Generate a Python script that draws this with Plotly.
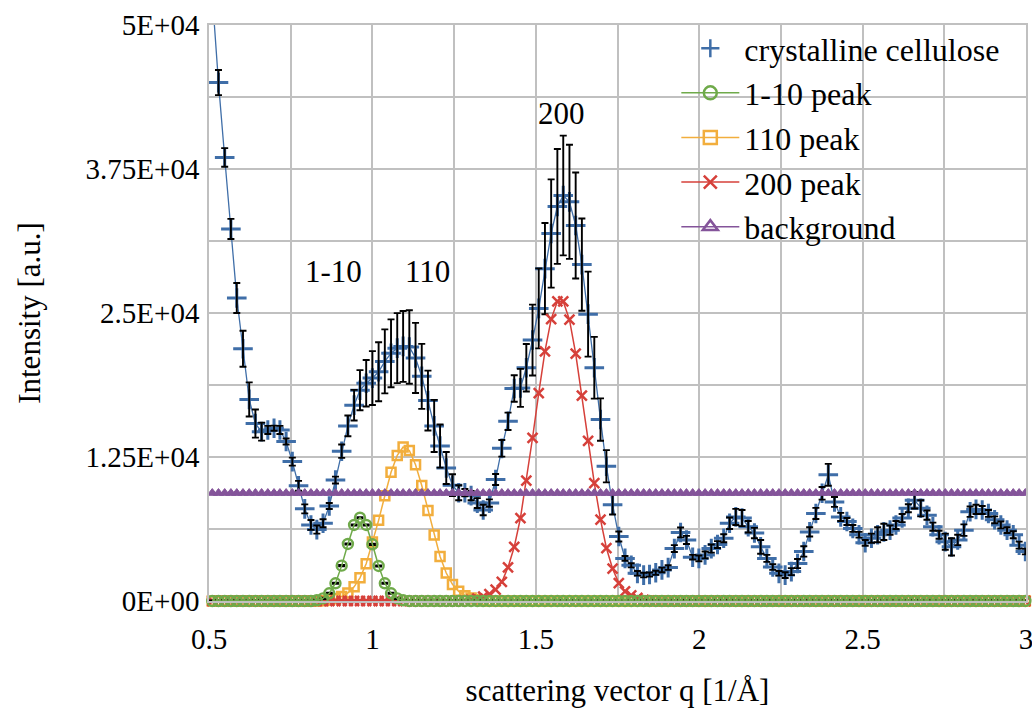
import plotly.graph_objects as go

# scattering vector grid [1/Å]
q = [0.510, 0.529, 0.548, 0.567, 0.585, 0.604, 0.623, 0.642, 0.661, 0.680,
     0.699, 0.717, 0.736, 0.755, 0.774, 0.793, 0.812, 0.830, 0.849, 0.868,
     0.887, 0.906, 0.925, 0.944, 0.962, 0.981, 1.000, 1.019, 1.038, 1.057,
     1.076, 1.094, 1.113, 1.132, 1.151, 1.170, 1.189, 1.207, 1.226, 1.245,
     1.264, 1.283, 1.302, 1.321, 1.339, 1.358, 1.377, 1.396, 1.415, 1.434,
     1.453, 1.471, 1.490, 1.509, 1.528, 1.547, 1.566, 1.584, 1.603, 1.622,
     1.641, 1.660, 1.679, 1.698, 1.716, 1.735, 1.754, 1.773, 1.792, 1.811,
     1.830, 1.848, 1.867, 1.886, 1.905, 1.924, 1.943, 1.961, 1.980, 1.999,
     2.018, 2.037, 2.056, 2.075, 2.093, 2.112, 2.131, 2.150, 2.169, 2.188,
     2.207, 2.225, 2.244, 2.263, 2.282, 2.301, 2.320, 2.338, 2.357, 2.376,
     2.395, 2.414, 2.433, 2.452, 2.470, 2.489, 2.508, 2.527, 2.546, 2.565,
     2.584, 2.602, 2.621, 2.640, 2.659, 2.678, 2.697, 2.715, 2.734, 2.753,
     2.772, 2.791, 2.810, 2.829, 2.847, 2.866, 2.885, 2.904, 2.923, 2.942,
     2.961, 2.979, 2.998]

# measured intensity of crystalline cellulose and its uncertainty
cellulose = [52600, 45000, 38500, 32300, 26300, 21900, 17500, 15400, 14700, 14850,
             15000, 14850, 13850, 12100, 10000, 8000, 6600, 6200, 6750, 8250,
             10500, 13000, 15200, 17000, 18300, 18900, 19350, 19900, 20800, 21500,
             21950, 22100, 22050, 21100, 19500, 17400, 15200, 13450, 11550, 10050,
             9400, 9400, 9150, 8500, 7900, 8500, 10550, 13250, 15600, 18450,
             18500, 20250, 22650, 25400, 28850, 31900, 34250, 35200, 34650, 32600,
             29200, 24900, 20250, 15750, 11700, 8350, 5600, 3700, 3100, 2400,
             2250, 2300, 2450, 2700, 2900, 4550, 5950, 5300, 3800, 3700,
             4000, 4550, 4900, 5450, 6750, 7300, 7200, 6450, 5900, 4700,
             3700, 2950, 2400, 2250, 2550, 3250, 4300, 6000, 7600, 9350,
             10950, 8600, 7300, 6900, 6300, 5750, 5050, 5450, 5750, 6000,
             6150, 6600, 7200, 8050, 8750, 8050, 7450, 6450, 5750, 5150,
             4700, 5300, 6150, 7750, 7950, 7900, 7600, 7050, 6600, 6150,
             5750, 4850, 4300]
cellulose_err = [1100, 1090, 810, 870, 1300, 1560, 1480, 1220, 780, 350,
                 220, 350, 260, 350, 430, 390, 430, 350, 350, 260,
                 300, 580, 900, 1330, 1740, 2020, 2340, 2560, 2780, 2950,
                 3040, 3080, 3190, 3040, 2820, 2600, 2260, 1870, 1390, 950,
                 650, 320, 410, 430, 460, 320, 480, 720, 750, 1150,
                 1650, 2060, 3080, 3470, 3960, 4700, 4990, 5200, 4950, 4600,
                 4000, 3690, 2680, 1840, 1400, 840, 430, 200, 180, 200,
                 200, 180, 180, 200, 200, 300, 430, 350, 200, 250,
                 300, 350, 300, 350, 500, 700, 700, 500, 450, 600,
                 300, 250, 200, 250, 300, 400, 450, 400, 480, 550,
                 950, 430, 350, 300, 300, 250, 250, 400, 650, 700,
                 400, 350, 350, 350, 720, 700, 400, 350, 350, 700,
                 750, 450, 500, 450, 400, 350, 300, 300, 300, 250,
                 300, 300, 250]

# fitted Bragg peaks (zero outside the listed ranges)
peak_1m10 = ([0] * 17 +
             [60, 230, 670, 1540, 3070, 4950, 6600, 7230, 6600, 4920,
              3040, 1540, 670, 230, 60] +
             [0] * 101)
peak_1m10_err = [50] * 133
peak_110 = ([0] * 18 +
            [30, 90, 200, 400, 700, 1230, 2010, 3240, 5120, 7000,
             9140, 11170, 12640, 13360, 13070, 11830, 10030, 7860, 5720, 3870,
             2430, 1440, 840, 460, 260, 120, 30] +
            [0] * 88)
peak_200 = ([0] * 41 +
            [40, 90, 200, 380, 600, 980, 1650, 2920, 4690, 7200,
             10440, 14150, 18050, 21660, 24470, 26000, 26000, 24420, 21470, 17820,
             13910, 10240, 7060, 4600, 2800, 1560, 830, 490, 260, 100,
             40] +
            [0] * 61)
background = [9370] * 133

x_ticks = [0.5, 1, 1.5, 2, 2.5, 3]
x_minor = [0.75, 1.25, 1.75, 2.25, 2.75]
y_ticks = [0, 12500, 25000, 37500, 50000]
y_ticktext = ["0E+00", "1.25E+04", "2.5E+04", "3.75E+04", "5E+04"]
y_minor = [6250, 18750, 31250, 43750]

peak_labels = ["1-10", "110", "200"]
peak_label_q = [0.88, 1.17, 1.58]
peak_label_i = [28600, 28600, 42300]

BLUE = "#3f6ea8"
GREEN = "#6faa4a"
ORANGE = "#f2ae3d"
RED = "#d6403a"
PURPLE = "#84549a"
GRID = "#c0c0c0"
FONT = "'Liberation Serif', 'Times New Roman', 'DejaVu Serif', serif"

fig = go.Figure()

fig.add_trace(go.Scatter(
    x=q, y=cellulose, mode="lines+markers", showlegend=False,
    line=dict(color=BLUE, width=1.3),
    marker=dict(symbol="cross-thin", size=14, line=dict(color=BLUE, width=3)),
))
# uncertainty bars drawn above the markers
fig.add_trace(go.Scatter(
    x=q, y=cellulose, mode="markers", showlegend=False,
    marker=dict(color="rgba(0,0,0,0)", size=1),
    error_y=dict(type="data", array=cellulose_err, color="black",
                 thickness=1.9, width=3.5),
))
fig.add_trace(go.Scatter(
    x=q, y=peak_110, mode="lines+markers", showlegend=False, cliponaxis=False,
    line=dict(color=ORANGE, width=1.5),
    marker=dict(symbol="square-open", size=9, line=dict(color=ORANGE, width=2.5)),
))
fig.add_trace(go.Scatter(
    x=q, y=peak_200, mode="lines+markers", showlegend=False, cliponaxis=False,
    line=dict(color=RED, width=1.5),
    marker=dict(symbol="x-thin", size=10, line=dict(color=RED, width=2.5)),
))
fig.add_trace(go.Scatter(
    x=q, y=peak_1m10, mode="lines+markers", showlegend=False, cliponaxis=False,
    line=dict(color=GREEN, width=1.5),
    marker=dict(symbol="circle-open", size=10, line=dict(color=GREEN, width=2.4)),
    error_y=dict(type="data", array=peak_1m10_err, color="black",
                 thickness=2, width=3.5),
))
fig.add_trace(go.Scatter(
    x=q, y=background, mode="lines+markers", showlegend=False,
    line=dict(color=PURPLE, width=1.5),
    marker=dict(symbol="triangle-up", size=9, color=PURPLE,
                line=dict(color=PURPLE, width=1)),
))

# legend entries
legend_items = [
    ("crystalline cellulose", BLUE, "cross-thin", 0),
    ("1-10 peak", GREEN, "circle-open", 1.5),
    ("110 peak", ORANGE, "square-open", 1.5),
    ("200 peak", RED, "x-thin", 1.5),
    ("background", PURPLE, "triangle-up-open", 1.5),
]
for name, color, symbol, lw in legend_items:
    fig.add_trace(go.Scatter(
        x=[None], y=[None], name=name, mode="lines+markers",
        line=dict(color=color, width=lw),
        marker=dict(symbol=symbol, size=13, line=dict(color=color, width=2.5)),
    ))

for text, xq, yi in zip(peak_labels, peak_label_q, peak_label_i):
    fig.add_annotation(x=xq, y=yi, text=text, showarrow=False,
                       font=dict(family=FONT, size=31, color="black"))

axis_common = dict(
    showgrid=True, gridcolor=GRID, gridwidth=1.5,
    showline=True, linecolor=GRID, linewidth=1.5, mirror=True,
    zeroline=False, ticks="", automargin=False, ticklabeloverflow="allow",
    tickfont=dict(family=FONT, size=29, color="black"),
)

fig.update_layout(
    width=1032, height=711,
    margin=dict(l=209, r=6, t=25, b=110),
    paper_bgcolor="white", plot_bgcolor="white",
    font=dict(family=FONT, color="black"),
    xaxis=dict(range=[0.5, 3.0], tickmode="array", tickvals=x_ticks,
               ticklabelstandoff=11,
               minor=dict(tickvals=x_minor, showgrid=True, gridcolor=GRID, gridwidth=1.5),
               title=dict(text="scattering vector q [1/Å]", standoff=26,
                          font=dict(family=FONT, size=31, color="black")),
               **axis_common),
    yaxis=dict(range=[0, 50000], tickmode="array", tickvals=y_ticks, ticktext=y_ticktext,
               ticklabelstandoff=2,
               minor=dict(tickvals=y_minor, showgrid=True, gridcolor=GRID, gridwidth=1.5),
               title=dict(text="Intensity [a.u.]", standoff=36,
                          font=dict(family=FONT, size=31, color="black")),
               **axis_common),
    legend=dict(x=0.572, y=1.007, xanchor="left", yanchor="top",
                bgcolor="rgba(0,0,0,0)", font=dict(family=FONT, size=32, color="black"),
                tracegroupgap=0, itemwidth=58),
)

fig.write_html("out.html")
